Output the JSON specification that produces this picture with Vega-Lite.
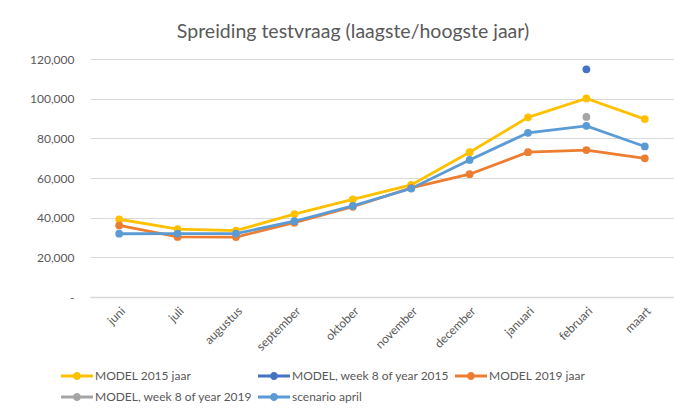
{
  "$schema": "https://vega.github.io/schema/vega-lite/v6.json",
  "width": 584,
  "height": 238,
  "autosize": "none",
  "padding": {"left": 90, "top": 59, "right": 0, "bottom": 112},
  "background": "white",
  "config": {
    "font": "Lato",
    "view": {"stroke": null}
  },
  "title": {
    "text": "Spreiding testvraag (laagste/hoogste jaar)",
    "fontSize": 19.5,
    "font": "Lato",
    "fontWeight": "normal",
    "color": "#595959",
    "anchor": "middle",
    "frame": "group",
    "offset": 11,
    "dx": -29
  },
  "data": {
    "values": [
      {"maand": "juni", "reeks": "MODEL 2015 jaar", "waarde": 39200},
      {"maand": "juli", "reeks": "MODEL 2015 jaar", "waarde": 34200},
      {"maand": "augustus", "reeks": "MODEL 2015 jaar", "waarde": 33500},
      {"maand": "september", "reeks": "MODEL 2015 jaar", "waarde": 41800},
      {"maand": "oktober", "reeks": "MODEL 2015 jaar", "waarde": 49200},
      {"maand": "november", "reeks": "MODEL 2015 jaar", "waarde": 56500},
      {"maand": "december", "reeks": "MODEL 2015 jaar", "waarde": 73000},
      {"maand": "januari", "reeks": "MODEL 2015 jaar", "waarde": 90600},
      {"maand": "februari", "reeks": "MODEL 2015 jaar", "waarde": 100100},
      {"maand": "maart", "reeks": "MODEL 2015 jaar", "waarde": 89700},
      {"maand": "februari", "reeks": "MODEL, week 8 of year 2015", "waarde": 114800},
      {"maand": "juni", "reeks": "MODEL 2019 jaar", "waarde": 36100},
      {"maand": "juli", "reeks": "MODEL 2019 jaar", "waarde": 30300},
      {"maand": "augustus", "reeks": "MODEL 2019 jaar", "waarde": 30200},
      {"maand": "september", "reeks": "MODEL 2019 jaar", "waarde": 37500},
      {"maand": "oktober", "reeks": "MODEL 2019 jaar", "waarde": 45500},
      {"maand": "november", "reeks": "MODEL 2019 jaar", "waarde": 55000},
      {"maand": "december", "reeks": "MODEL 2019 jaar", "waarde": 61900},
      {"maand": "januari", "reeks": "MODEL 2019 jaar", "waarde": 73000},
      {"maand": "februari", "reeks": "MODEL 2019 jaar", "waarde": 74100},
      {"maand": "maart", "reeks": "MODEL 2019 jaar", "waarde": 69900},
      {"maand": "februari", "reeks": "MODEL, week 8 of year 2019", "waarde": 90800},
      {"maand": "juni", "reeks": "scenario april", "waarde": 31900},
      {"maand": "juli", "reeks": "scenario april", "waarde": 32000},
      {"maand": "augustus", "reeks": "scenario april", "waarde": 32000},
      {"maand": "september", "reeks": "scenario april", "waarde": 38200},
      {"maand": "oktober", "reeks": "scenario april", "waarde": 45900},
      {"maand": "november", "reeks": "scenario april", "waarde": 54700},
      {"maand": "december", "reeks": "scenario april", "waarde": 69100},
      {"maand": "januari", "reeks": "scenario april", "waarde": 82800},
      {"maand": "februari", "reeks": "scenario april", "waarde": 86300},
      {"maand": "maart", "reeks": "scenario april", "waarde": 75900}
    ]
  },
  "encoding": {
    "x": {
      "field": "maand",
      "type": "ordinal",
      "sort": ["juni", "juli", "augustus", "september", "oktober", "november", "december", "januari", "februari", "maart"],
      "scale": {"type": "point", "padding": 0.5},
      "axis": {
        "title": null,
        "labelAngle": -45,
        "labelAlign": "right",
        "labelBaseline": "top",
        "labelFontSize": 12,
        "labelColor": "#595959",
        "labelPadding": 8,
        "ticks": false,
        "domain": true,
        "domainColor": "#d9d9d9",
        "domainWidth": 1.5,
        "grid": false
      }
    },
    "y": {
      "field": "waarde",
      "type": "quantitative",
      "scale": {"domain": [0, 120000], "nice": false},
      "axis": {
        "title": null,
        "values": [0, 20000, 40000, 60000, 80000, 100000, 120000],
        "labelExpr": "datum.value == 0 ? '-' : format(datum.value, ',')",
        "labelFontSize": 12,
        "labelColor": "#595959",
        "labelPadding": 16,
        "ticks": false,
        "domain": false,
        "grid": true,
        "gridColor": "#d9d9d9",
        "gridWidth": 1.2
      }
    },
    "color": {
      "field": "reeks",
      "type": "nominal",
      "scale": {
        "domain": ["MODEL 2015 jaar", "MODEL, week 8 of year 2015", "MODEL 2019 jaar", "MODEL, week 8 of year 2019", "scenario april"],
        "range": ["#FFC000", "#4472C4", "#ED7D31", "#A5A5A5", "#5B9BD5"]
      },
      "legend": {
        "title": null,
        "orient": "none",
        "legendX": -23,
        "legendY": 307,
        "direction": "horizontal",
        "columns": 3,
        "columnPadding": 5,
        "rowPadding": 5,
        "symbolType": "M-1.6,-0.15H-0.3V0.15H-1.6Z M0.3,-0.15H1.6V0.15H0.3Z M-0.4,0A0.4,0.4 0 1,1 0.4,0A0.4,0.4 0 1,1 -0.4,0Z",
        "symbolSize": 400,
        "symbolStrokeWidth": 0,
        "labelOffset": 8,
        "labelFontSize": 12,
        "labelColor": "#595959",
        "encode": {
          "symbols": {
            "update": {
              "fill": {"scale": "color", "field": "value"},
              "fillOpacity": {"value": 1},
              "opacity": {"value": 1},
              "strokeWidth": {"value": 0}
            }
          }
        }
      }
    },
    "detail": {"field": "reeks"}
  },
  "layer": [
    {"mark": {"type": "line", "strokeWidth": 2.8}},
    {"mark": {"type": "point", "filled": true, "size": 60, "opacity": 1}}
  ]
}
